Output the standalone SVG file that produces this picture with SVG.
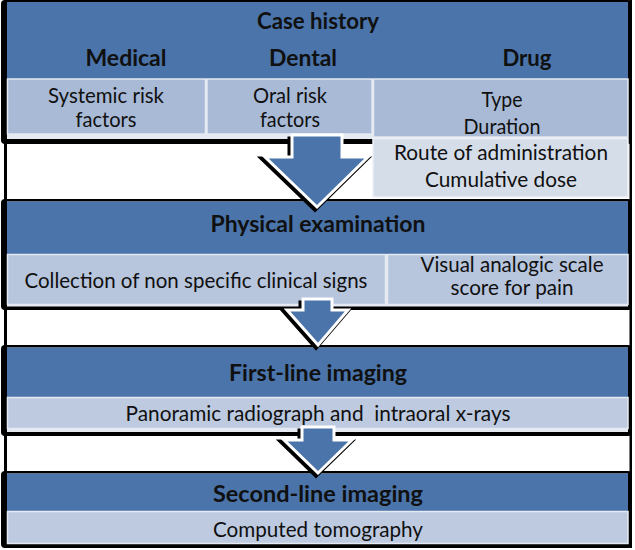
<svg xmlns="http://www.w3.org/2000/svg" width="635" height="550" viewBox="0 0 635 550">
<defs>
<style>
.frame{fill:#000}
.dark{fill:#4a74aa}
.c1{fill:#a8bad6;stroke:#e4e9f2;stroke-width:1.5}
.c2{fill:#b7c5dd;stroke:#e4e9f2;stroke-width:1.5}
.c3{fill:#bdcae0;stroke:#e4e9f2;stroke-width:1.5}
.c4{fill:#d5dde9;stroke:#eef1f6;stroke-width:1.5}
.h{font-family:Lato,"Liberation Sans",sans-serif;font-weight:bold;font-size:23px;fill:#101010;text-anchor:middle}
.t{font-family:Lato,"Liberation Sans",sans-serif;font-size:20.5px;fill:#101010;text-anchor:middle}
.ash{fill:#000;stroke:#000;stroke-width:5;stroke-linejoin:miter}
.arr{fill:#4a74aa;stroke:#fff;stroke-width:3;stroke-linejoin:miter}
</style>
</defs>
<rect width="635" height="550" fill="#fff"/>
<!-- continuous frame sides -->
<rect x="4" y="0" width="3" height="548" class="frame"/>
<rect x="629.5" y="0" width="2.5" height="548" class="frame"/>

<g id="case-history">
<rect x="1" y="0" width="631" height="144" rx="4" class="frame"/>
<rect x="7" y="2" width="621" height="137" fill="#e4e9f2"/>
<rect x="7" y="2" width="621" height="77" class="dark"/>
<rect x="7.5" y="79" width="198" height="55" class="c1"/>
<rect x="207" y="79" width="165" height="55" class="c1"/>
<rect x="373.5" y="79" width="254.5" height="58" class="c1"/>
<text x="318" y="29" class="h" textLength="122" lengthAdjust="spacingAndGlyphs">Case history</text>
<text x="126" y="66" class="h" textLength="81" lengthAdjust="spacingAndGlyphs">Medical</text>
<text x="303" y="66" class="h" textLength="68" lengthAdjust="spacingAndGlyphs">Dental</text>
<text x="527" y="66" class="h" textLength="49" lengthAdjust="spacingAndGlyphs">Drug</text>
<text x="106" y="103" class="t" textLength="116" lengthAdjust="spacingAndGlyphs">Systemic risk</text>
<text x="106" y="127" class="t" textLength="61" lengthAdjust="spacingAndGlyphs">factors</text>
<text x="290" y="103" class="t" textLength="74" lengthAdjust="spacingAndGlyphs">Oral risk</text>
<text x="290" y="127" class="t" textLength="60" lengthAdjust="spacingAndGlyphs">factors</text>
<text x="502" y="107" class="t" textLength="41" lengthAdjust="spacingAndGlyphs">Type</text>
<text x="502" y="134" class="t" textLength="77" lengthAdjust="spacingAndGlyphs">Duration</text>
</g>

<g id="drug-route">
<rect x="373" y="138.5" width="255" height="58.5" class="c4"/>
<text x="501" y="160" class="t" textLength="214" lengthAdjust="spacingAndGlyphs">Route of administration</text>
<text x="501" y="187" class="t" textLength="152" lengthAdjust="spacingAndGlyphs">Cumulative dose</text>
</g>

<g id="physical-examination">
<rect x="1" y="199" width="631" height="111" rx="4" class="frame"/>
<rect x="7" y="201.5" width="621" height="105" fill="#e4e9f2"/>
<rect x="7" y="201.5" width="621" height="52.5" class="dark"/>
<rect x="7.5" y="254.5" width="378" height="50" class="c2"/>
<rect x="387.5" y="254.5" width="240.5" height="50" class="c2"/>
<text x="318" y="232" class="h" textLength="215" lengthAdjust="spacingAndGlyphs">Physical examination</text>
<text x="196" y="288" class="t" textLength="343" lengthAdjust="spacingAndGlyphs">Collection of non specific clinical signs</text>
<text x="512" y="272" class="t" textLength="183" lengthAdjust="spacingAndGlyphs">Visual analogic scale</text>
<text x="512" y="295" class="t" textLength="123" lengthAdjust="spacingAndGlyphs">score for pain</text>
</g>

<g id="first-line-imaging">
<rect x="1" y="345" width="631" height="91" rx="4" class="frame"/>
<rect x="7" y="347.5" width="621" height="84.5" fill="#e4e9f2"/>
<rect x="7" y="347.5" width="621" height="49.5" class="dark"/>
<rect x="7.5" y="397.5" width="620.5" height="31" class="c3"/>
<text x="318" y="381" class="h" textLength="178" lengthAdjust="spacingAndGlyphs">First-line imaging</text>
<text x="318" y="421" class="t" textLength="385" lengthAdjust="spacingAndGlyphs" style="white-space:pre">Panoramic radiograph and  intraoral x-rays</text>
</g>

<g id="second-line-imaging">
<rect x="1" y="471" width="631" height="77" rx="4" class="frame"/>
<rect x="7" y="473.5" width="621" height="70.5" fill="#e4e9f2"/>
<rect x="7" y="473.5" width="621" height="37.5" class="dark"/>
<rect x="7.5" y="511.5" width="620.5" height="32" class="c3"/>
<text x="318" y="502" class="h" textLength="210" lengthAdjust="spacingAndGlyphs">Second-line imaging</text>
<text x="318" y="537" class="t" textLength="210" lengthAdjust="spacingAndGlyphs">Computed tomography</text>
</g>

<g id="connectors">
<g transform="translate(-2,2)">
<polygon class="ash" points="292,137 342,137 342,157 368,157 317,207 265,157 292,157"/>
<polygon class="ash" points="303,301 332,301 332,310 348,310 318,345 287,310 303,310"/>
<polygon class="ash" points="302,429 334,429 334,440 352,440 318,473 284,440 302,440"/>
</g>
<polygon class="arr" points="292,135 342,135 342,157 368,157 317,207 265,157 292,157"/>
<polygon class="arr" points="303,299 332,299 332,310 348,310 318,345 287,310 303,310"/>
<polygon class="arr" points="302,427 334,427 334,440 352,440 318,473 284,440 302,440"/>
</g>
</svg>
